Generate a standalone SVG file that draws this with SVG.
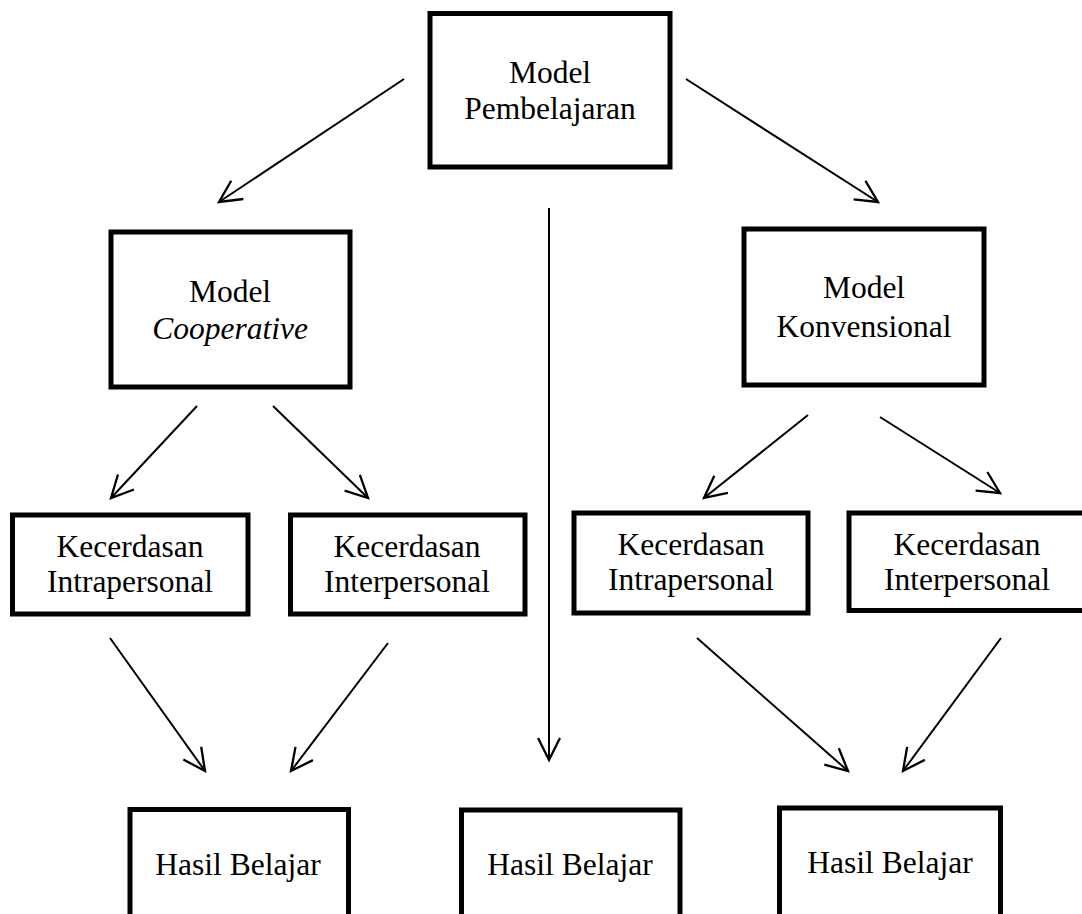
<svg xmlns="http://www.w3.org/2000/svg" width="1082" height="914" viewBox="0 0 1082 914">
<style>
.box{fill:#fff;stroke:#000;stroke-width:5}
.t{font-family:"Liberation Serif","Times New Roman",serif;font-size:31.5px;fill:#000;text-anchor:middle}
.i{font-style:italic}
.c line{stroke:#000;stroke-width:2;marker-end:url(#ah)}
</style>
<defs>
<marker id="ah" markerUnits="userSpaceOnUse" markerWidth="30" markerHeight="30" viewBox="-22 -12 26 24" refX="0" refY="0" orient="auto">
<path d="M-19,-9.5 L0,0 L-19,9.5" fill="none" stroke="#000" stroke-width="2"/>
</marker>
</defs>
<rect width="1082" height="914" fill="#fff"/>
<g class="c" id="connectors">
<line x1="404" y1="79" x2="219" y2="202"/>
<line x1="686" y1="79" x2="878" y2="202"/>
<line x1="549" y1="208" x2="549" y2="760"/>
<line x1="197" y1="406" x2="111" y2="498"/>
<line x1="273" y1="406" x2="368" y2="498"/>
<line x1="808" y1="415" x2="704" y2="498"/>
<line x1="880" y1="417" x2="1000" y2="493"/>
<line x1="110" y1="638" x2="205" y2="771"/>
<line x1="388" y1="643" x2="291" y2="771"/>
<line x1="697" y1="638" x2="848" y2="771"/>
<line x1="1001" y1="638" x2="903" y2="771"/>
</g>
<g id="model-pembelajaran">
<rect class="box" x="430" y="13.5" width="240" height="153.5"/>
<text class="t" x="550" y="83">Model</text>
<text class="t" x="550" y="119">Pembelajaran</text>
</g>
<g id="model-cooperative">
<rect class="box" x="111" y="232" width="239" height="155"/>
<text class="t" x="230" y="302">Model</text>
<text class="t i" x="230" y="339">Cooperative</text>
</g>
<g id="model-konvensional">
<rect class="box" x="744" y="229" width="240" height="156"/>
<text class="t" x="864" y="298">Model</text>
<text class="t" x="864" y="337">Konvensional</text>
</g>
<g id="k-intra-1">
<rect class="box" x="12.5" y="515" width="235.5" height="99"/>
<text class="t" x="130" y="557">Kecerdasan</text>
<text class="t" x="130" y="592">Intrapersonal</text>
</g>
<g id="k-inter-1">
<rect class="box" x="290.5" y="515" width="234.5" height="99"/>
<text class="t" x="407" y="557">Kecerdasan</text>
<text class="t" x="407" y="592">Interpersonal</text>
</g>
<g id="k-intra-2">
<rect class="box" x="574" y="513" width="234" height="100"/>
<text class="t" x="691" y="555">Kecerdasan</text>
<text class="t" x="691" y="590">Intrapersonal</text>
</g>
<g id="k-inter-2">
<rect class="box" x="849" y="513" width="240" height="97.5"/>
<text class="t" x="967" y="555">Kecerdasan</text>
<text class="t" x="967" y="590">Interpersonal</text>
</g>
<g id="hasil-1">
<rect class="box" x="130" y="809.5" width="218.5" height="140"/>
<text class="t" x="238" y="875">Hasil Belajar</text>
</g>
<g id="hasil-2">
<rect class="box" x="461.5" y="810" width="218.5" height="140"/>
<text class="t" x="570" y="875">Hasil Belajar</text>
</g>
<g id="hasil-3">
<rect class="box" x="779.5" y="808" width="221" height="140"/>
<text class="t" x="890" y="873">Hasil Belajar</text>
</g>
</svg>
